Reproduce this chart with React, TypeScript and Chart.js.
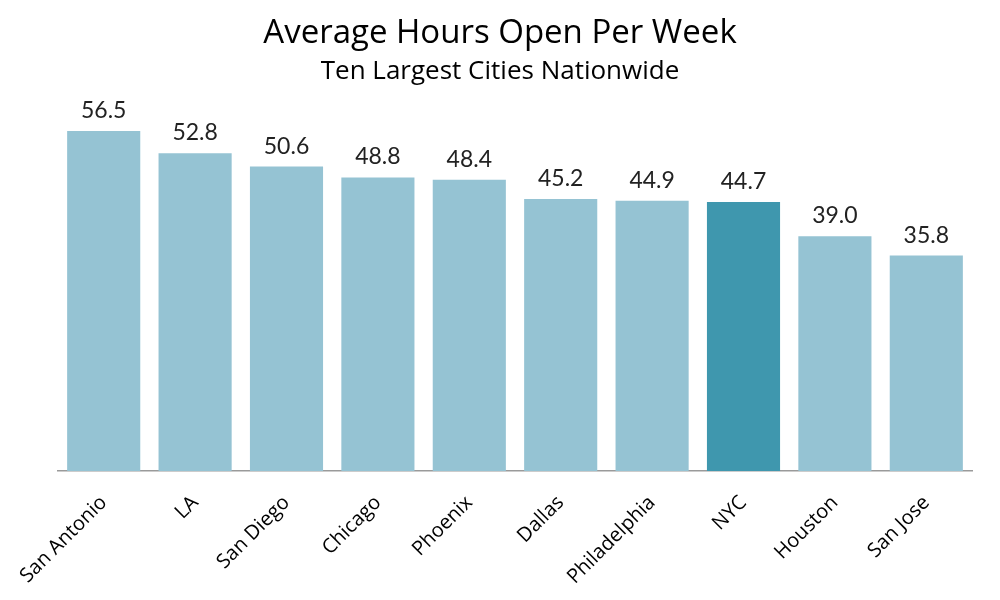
import React, { useEffect, useRef } from "react";
import { Chart, registerables } from "chart.js";

Chart.register(...registerables);

const cities = ["San Antonio", "LA", "San Diego", "Chicago", "Phoenix", "Dallas", "Philadelphia", "NYC", "Houston", "San Jose"];
const hours = [56.5, 52.8, 50.6, 48.8, 48.4, 45.2, 44.9, 44.7, 39.0, 35.8];
const highlightCity = "NYC";
const titleText = "Average Hours Open Per Week";
const subtitleText = "Ten Largest Cities Nationwide";

const FONT = "'Open Sans', Lato, sans-serif";
const NUMFONT = "Lato, 'Open Sans', sans-serif";

const valueLabels = {
  id: "valueLabels",
  afterDatasetsDraw(chart: any) {
    const ctx = chart.ctx;
    const meta = chart.getDatasetMeta(0);
    ctx.save();
    ctx.font = `23px ${NUMFONT}`;
    ctx.fillStyle = "#222";
    ctx.textAlign = "center";
    ctx.textBaseline = "alphabetic";
    meta.data.forEach((bar: any, i: number) => {
      ctx.fillText(hours[i].toFixed(1), bar.x, bar.y - 13);
    });
    ctx.restore();
  },
};

const titles = {
  id: "titles",
  afterDraw(chart: any) {
    const ctx = chart.ctx;
    const cx = chart.width / 2;
    ctx.save();
    ctx.fillStyle = "#000";
    ctx.textAlign = "center";
    ctx.textBaseline = "alphabetic";
    ctx.font = `500 33px ${FONT}`;
    ctx.fillText(titleText, cx, 43);
    ctx.font = `26px ${FONT}`;
    ctx.fillText(subtitleText, cx, 79);
    ctx.restore();
  },
};

export default function App() {
  const ref = useRef<HTMLCanvasElement>(null);
  useEffect(() => {
    if (!ref.current) return;
    const chart = new Chart(ref.current, {
      type: "bar",
      data: {
        labels: cities,
        datasets: [
          {
            data: hours,
            backgroundColor: cities.map((c) => (c === highlightCity ? "#3F97AE" : "#95C3D3")),
            borderWidth: 0,
            barPercentage: 0.8,
            categoryPercentage: 1,
          },
        ],
      },
      options: {
        animation: false,
        responsive: true,
        maintainAspectRatio: false,
        layout: { padding: { left: 58, right: 28, top: 110, bottom: 0 } },
        plugins: {
          legend: { display: false },
          tooltip: { enabled: false },
          title: { display: false },
          subtitle: { display: false },
        },
        scales: {
          x: {
            grid: { display: false, drawTicks: false },
            border: { display: true, color: "#9a9a9a", width: 1.5 },
            ticks: {
              color: "#000",
              font: { family: FONT, size: 20 },
              maxRotation: 45,
              minRotation: 45,
              padding: 20,
              autoSkip: false,
            },
            afterFit: (scale: any) => {
              scale.height = 129;
            },
          },
          y: {
            display: false,
            min: 0,
            max: 60,
          },
        },
      },
      plugins: [valueLabels, titles],
    });
    return () => chart.destroy();
  }, []);
  return (
    <div style={{ position: "fixed", left: 0, top: 0, width: 1000, height: 600, background: "#fff" }}>
      <canvas ref={ref} />
    </div>
  );
}
